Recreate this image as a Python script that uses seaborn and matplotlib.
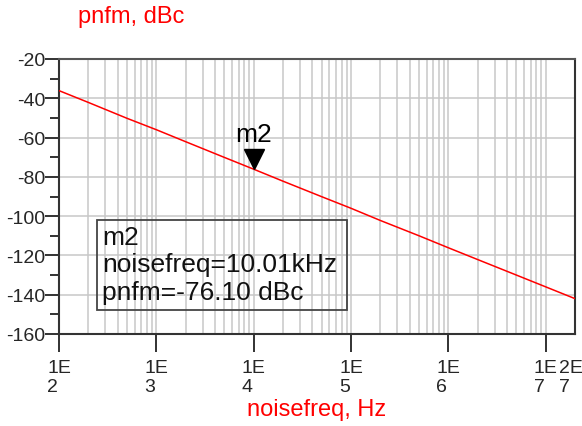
import numpy as np
import pandas as pd
import matplotlib
matplotlib.use("Agg")
import matplotlib.pyplot as plt
import matplotlib.transforms as mtransforms
from matplotlib.patches import Rectangle
from matplotlib.ticker import FixedLocator, FixedFormatter
import seaborn as sns

# ---- data ----
noisefreq = [1e2, 2e2, 5e2, 1e3, 2e3, 5e3, 1e4, 2e4, 5e4, 1e5, 2e5, 5e5,
             1e6, 2e6, 5e6, 1e7, 2e7]
pnfm = [-36.1, -42.1, -50.2, -56.0, -62.1, -70.1, -76.1, -82.2, -90.1, -96.0,
        -102.2, -110.0, -116.1, -122.1, -130.0, -136.0, -142.0]

xticks = [1e2, 1e3, 1e4, 1e5, 1e6, 1e7, 2e7]
xtick_labels = ["1E\n2", "1E\n3", "1E\n4", "1E\n5", "1E\n6", "1E\n7", "2E\n7"]
yticks = [-20, -40, -60, -80, -100, -120, -140, -160]
ytick_labels = ["-20", "-40", "-60", "-80", "-100", "-120", "-140", "-160"]
yminor = [-30, -50, -70, -90, -110, -130, -150]

marker_name = "m2"
marker_freq = 1.001e4
marker_val = -76.10
marker_lines = ["m2", "noisefreq=10.01kHz", "pnfm=-76.10 dBc"]

df = pd.DataFrame({"noisefreq": noisefreq, "pnfm": pnfm})

sns.set_style("white")
plt.rcParams["font.family"] = ["Liberation Sans", "DejaVu Sans"]
plt.rcParams["axes.unicode_minus"] = False

fig = plt.figure(figsize=(5.82, 4.27), dpi=100)
ax = fig.add_axes([59 / 582, 1 - 335 / 427, 516 / 582, 275 / 427])

# grid lines (x at 1..9 of every decade, y every 20)
grid_x = [m * 10 ** e for e in range(2, 8) for m in range(1, 10) if m * 10 ** e < 2e7]
for gx in grid_x:
    ax.axvline(gx, color="#c8c8c8", lw=1.1, zorder=0)
for gy in yticks:
    ax.axhline(gy, color="#c8c8c8", lw=1.1, zorder=0)

sns.lineplot(data=df, x="noisefreq", y="pnfm", color="red", lw=1.1, ax=ax, zorder=3)

ax.set_xscale("log")
ax.set_xlim(1e2, 2e7)
ax.set_ylim(-160, -20)
ax.set_xlabel("")
ax.set_ylabel("")

ax.xaxis.set_major_locator(FixedLocator(xticks))
ax.xaxis.set_major_formatter(FixedFormatter(xtick_labels))
ax.xaxis.set_minor_locator(FixedLocator([]))
ax.yaxis.set_major_locator(FixedLocator(yticks))
ax.yaxis.set_major_formatter(FixedFormatter(ytick_labels))
ax.yaxis.set_minor_locator(FixedLocator(yminor))

ax.tick_params(axis="x", which="major", direction="out", length=13, width=1.3,
               color="#222222", labelsize=14, pad=5, bottom=True)
ax.tick_params(axis="y", which="major", direction="out", length=10, width=1.3,
               color="#222222", labelsize=14, pad=0, left=True)
ax.tick_params(axis="y", which="minor", direction="out", length=6.5, width=1.3,
               color="#222222", left=True)
for lab in ax.get_xticklabels():
    lab.set_linespacing(1.12)
    lab.set_multialignment("left")
ax.xaxis.get_major_ticks()[-1].tick1line.set_visible(False)
last = ax.get_xticklabels()[-1]
last.set_transform(last.get_transform() + mtransforms.ScaledTranslation(-4 / 100, 0, fig.dpi_scale_trans))

for side in ["left", "bottom", "right", "top"]:
    ax.spines[side].set_color("#333333")
    ax.spines[side].set_linewidth(1.5)
ax.spines["top"].set_color("#555555")

# marker triangle with tip on the trace
tri_tr = mtransforms.offset_copy(ax.transData, fig=fig, x=0, y=10.5, units="dots")
ax.plot([marker_freq], [marker_val], marker="v", markersize=15, color="black",
        transform=tri_tr, zorder=5, clip_on=False)
lab_tr = mtransforms.offset_copy(ax.transData, fig=fig, x=0, y=35, units="dots")
ax.text(marker_freq, marker_val, marker_name, transform=lab_tr, ha="center", va="center",
        fontsize=19, color="black", zorder=5)

# marker readout box
ax.add_patch(Rectangle((0.0736, 0.087), 0.4845, 0.328, transform=ax.transAxes,
                       fill=False, edgecolor="#444444", lw=1.3, zorder=4))
for i, line in enumerate(marker_lines):
    ypix = [238, 265.5, 293][i]
    ax.text((102 - 59) / 516, (335 - ypix) / 275, line, transform=ax.transAxes,
            ha="left", va="center", fontsize=19, color="#111111", zorder=4)

fig.text(78 / 582, 1 - 17 / 427, "pnfm, dBc", color="red", fontsize=17,
         ha="left", va="center")
fig.text(317 / 582, 1 - 410 / 427, "noisefreq, Hz", color="red", fontsize=17,
         ha="center", va="center")

fig.savefig("out.png", dpi=100)
